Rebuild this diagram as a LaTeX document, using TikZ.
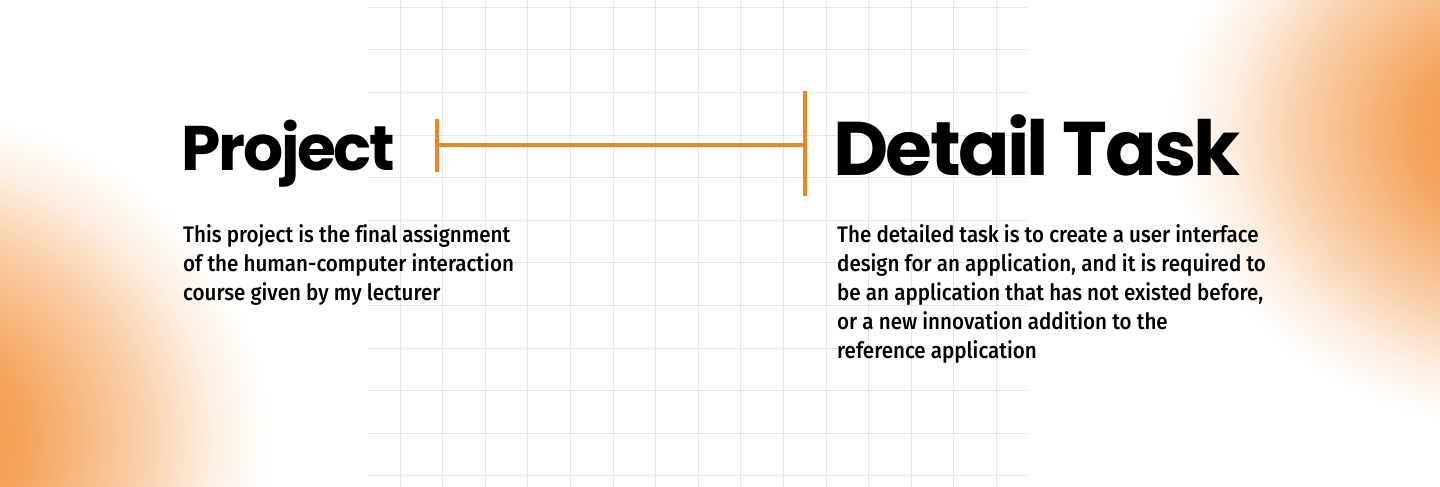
\documentclass[tikz,border=0pt]{standalone}
\usepackage{fontspec}
\usepackage{tikz}
\usepackage{xcolor}
\usetikzlibrary{positioning}

\newfontfamily\titlefont{Poppins}[LetterSpace=-3.5]
\newfontfamily\bodyfont{Fira Sans Medium}[FakeStretch=0.915, Ligatures=NoCommon]

\definecolor{bar-orange}{HTML}{E8862A}
\definecolor{blob-orange}{HTML}{F39440}
\definecolor{grid-grey}{HTML}{E6E6E6}

\pgfdeclareradialshading{glow}{\pgfpoint{0bp}{0bp}}{%
    color(0bp)=(blob-orange); color(8bp)=(blob-orange!85!white);
    color(16bp)=(blob-orange!45!white); color(21bp)=(blob-orange!15!white);
    color(25bp)=(white); color(50bp)=(white)}

\tikzset{
    grid-line/.style = {draw=grid-grey, line width=1pt},
    bracket-line/.style = {draw=bar-orange, line width=4pt},
    glow-blob/.style = {shading=glow},
    title-text/.style = {anchor=base west, inner sep=0pt},
    body-text/.style = {anchor=base west, inner sep=0pt, align=left, font=\bodyfont\fontsize{22.5}{29}\selectfont},
}

\begin{document}
\begin{tikzpicture}[x=1pt, y=-1pt]
\useasboundingbox (0,0) rectangle (1440,487);
\fill[white] (0,0) rectangle (1440,487);

% soft orange glow in two corners
\begin{scope}
    \clip (0,0) rectangle (1440,487);
    \shade[glow-blob] (-90,440) ellipse (360 and 330);
    \shade[glow-blob] (1530,130) ellipse (360 and 300);
\end{scope}

% background grid
\foreach \k in {0,...,14}
    \draw[grid-line] (400+42.6*\k,0) -- (400+42.6*\k,487);
\foreach \k in {0,...,11}
    \draw[grid-line] (368,7.3+42.6*\k) -- (1028,7.3+42.6*\k);

% bracket between the two headings
\coordinate (bar-left) at (437,145);
\coordinate (bar-right) at (805,145);
\coordinate (tick-left-top) at (437,119);
\coordinate (tick-left-bottom) at (437,172);
\coordinate (tick-right-top) at (805,91);
\coordinate (tick-right-bottom) at (805,196);
\draw[bracket-line] (tick-left-top) -- (tick-left-bottom);
\draw[bracket-line] (tick-right-top) -- (tick-right-bottom);
\draw[bracket-line] (bar-left) -- (bar-right);

\node[title-text, font=\titlefont\bfseries\fontsize{63}{70}\selectfont] (project) at (181,170) {Project};
\node[title-text, font=\titlefont\bfseries\fontsize{76}{84}\selectfont] (task) at (833,175) {Detail Task};

% base of a multi-line node is its last line
\node[body-text] (project-desc) at (183,300.5) {This project is the final assignment\\
of the human-computer interaction\\
course given by my lecturer};
\node[body-text] (task-desc) at (837,358.5) {The detailed task is to create a user interface\\
design for an application, and it is required to\\
be an application that has not existed before,\\
or a new innovation addition to the\\
reference application};
\end{tikzpicture}
\end{document}
